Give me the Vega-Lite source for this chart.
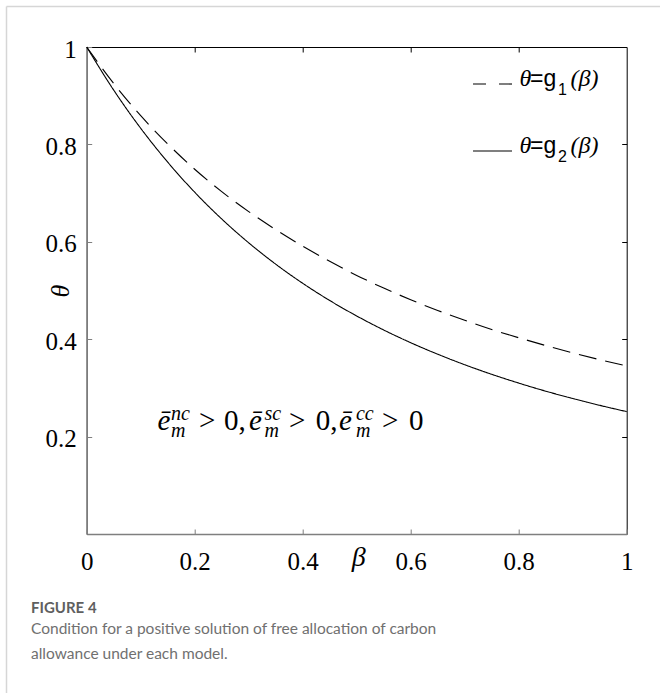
{
  "$schema": "https://vega.github.io/schema/vega-lite/v6.json",
  "width": 540,
  "height": 487,
  "autosize": {"type": "none"},
  "padding": {"left": 86.7, "top": 47, "right": 33.3, "bottom": 159},
  "background": "white",
  "config": {"view": {"stroke": "black", "strokeWidth": 1}},
  "title": {
    "text": "FIGURE 4",
    "subtitle": ["Condition for a positive solution of free allocation of carbon", "allowance under each model."],
    "orient": "bottom",
    "anchor": "start",
    "frame": "group",
    "dx": -55.7,
    "offset": -93,
    "font": "Lato",
    "fontSize": 15,
    "fontWeight": "bold",
    "color": "#5f5f5f",
    "subtitleFont": "Lato",
    "subtitleFontSize": 15.5,
    "subtitleColor": "#707070",
    "subtitleLineHeight": 25,
    "subtitlePadding": 6
  },
  "datasets": {
    "curves": [
      {"b": 0, "v": 1, "s": "g1"}, {"b": 0.05, "v": 0.925, "s": "g1"}, {"b": 0.1, "v": 0.859, "s": "g1"},
      {"b": 0.15, "v": 0.801, "s": "g1"}, {"b": 0.2, "v": 0.749, "s": "g1"}, {"b": 0.25, "v": 0.703, "s": "g1"},
      {"b": 0.3, "v": 0.662, "s": "g1"}, {"b": 0.35, "v": 0.625, "s": "g1"}, {"b": 0.4, "v": 0.591, "s": "g1"},
      {"b": 0.45, "v": 0.56, "s": "g1"}, {"b": 0.5, "v": 0.531, "s": "g1"}, {"b": 0.55, "v": 0.505, "s": "g1"},
      {"b": 0.6, "v": 0.481, "s": "g1"}, {"b": 0.65, "v": 0.459, "s": "g1"}, {"b": 0.7, "v": 0.439, "s": "g1"},
      {"b": 0.75, "v": 0.42, "s": "g1"}, {"b": 0.8, "v": 0.403, "s": "g1"}, {"b": 0.85, "v": 0.387, "s": "g1"},
      {"b": 0.9, "v": 0.372, "s": "g1"}, {"b": 0.95, "v": 0.358, "s": "g1"}, {"b": 1, "v": 0.345, "s": "g1"},
      {"b": 0, "v": 1, "s": "g2"}, {"b": 0.05, "v": 0.9115, "s": "g2"}, {"b": 0.1, "v": 0.8331, "s": "g2"},
      {"b": 0.15, "v": 0.7636, "s": "g2"}, {"b": 0.2, "v": 0.7018, "s": "g2"}, {"b": 0.25, "v": 0.6469, "s": "g2"},
      {"b": 0.3, "v": 0.5979, "s": "g2"}, {"b": 0.35, "v": 0.5541, "s": "g2"}, {"b": 0.4, "v": 0.5148, "s": "g2"},
      {"b": 0.45, "v": 0.4795, "s": "g2"}, {"b": 0.5, "v": 0.4477, "s": "g2"}, {"b": 0.55, "v": 0.4189, "s": "g2"},
      {"b": 0.6, "v": 0.3928, "s": "g2"}, {"b": 0.65, "v": 0.3692, "s": "g2"}, {"b": 0.7, "v": 0.3476, "s": "g2"},
      {"b": 0.75, "v": 0.3279, "s": "g2"}, {"b": 0.8, "v": 0.3099, "s": "g2"}, {"b": 0.85, "v": 0.2933, "s": "g2"},
      {"b": 0.9, "v": 0.2782, "s": "g2"}, {"b": 0.95, "v": 0.2642, "s": "g2"}, {"b": 1, "v": 0.2513, "s": "g2"}
    ],
    "labels": [
      {"x": 0.1311, "y": 0.2136, "t": "ē", "k": "ev"},
      {"x": 0.3006, "y": 0.2136, "t": "ē", "k": "ev"},
      {"x": 0.4672, "y": 0.2136, "t": "ē", "k": "ev"},
      {"x": 0.208, "y": 0.2136, "t": ">", "k": "rel"},
      {"x": 0.3746, "y": 0.2136, "t": ">", "k": "rel"},
      {"x": 0.5469, "y": 0.2136, "t": ">", "k": "rel"},
      {"x": 0.2543, "y": 0.2136, "t": "0,", "k": "rel"},
      {"x": 0.4241, "y": 0.2136, "t": "0,", "k": "rel"},
      {"x": 0.5969, "y": 0.2136, "t": "0", "k": "rel"},
      {"x": 0.1561, "y": 0.2341, "t": "nc", "k": "sc"},
      {"x": 0.3293, "y": 0.2341, "t": "sc", "k": "sc"},
      {"x": 0.4987, "y": 0.2341, "t": "cc", "k": "sc"},
      {"x": 0.1561, "y": 0.1986, "t": "m", "k": "sc"},
      {"x": 0.3293, "y": 0.1986, "t": "m", "k": "sc"},
      {"x": 0.4987, "y": 0.1986, "t": "m", "k": "sc"},
      {"x": 0.8015, "y": 0.9189, "t": "θ", "k": "lser"},
      {"x": 0.8959, "y": 0.9189, "t": "(β)", "k": "lser"},
      {"x": 0.8209, "y": 0.9189, "t": "=g", "k": "lsans"},
      {"x": 0.8728, "y": 0.9014, "t": "1", "k": "lsub"},
      {"x": 0.8015, "y": 0.7819, "t": "θ", "k": "lser"},
      {"x": 0.8959, "y": 0.7819, "t": "(β)", "k": "lser"},
      {"x": 0.8209, "y": 0.7819, "t": "=g", "k": "lsans"},
      {"x": 0.8728, "y": 0.7645, "t": "2", "k": "lsub"}
    ],
    "border": [
      {"x": -0.1485, "x2": -0.1485, "y": 1.083, "y2": -0.3265},
      {"x": -0.1485, "x2": 1.0617, "y": 1.083, "y2": 1.083}
    ],
    "legend": [
      {"x": 0.7154, "x2": 0.7876, "y": 0.924, "s": "g1"},
      {"x": 0.7154, "x2": 0.7876, "y": 0.7864, "s": "g2"}
    ]
  },
  "layer": [
    {
      "data": {"name": "border"},
      "mark": {"type": "rule", "color": "#d6d6d6", "strokeWidth": 1.5},
      "encoding": {
        "x": {"field": "x", "type": "quantitative", "scale": {"domain": [0, 1], "nice": false, "zero": false}, "axis": null},
        "x2": {"field": "x2"},
        "y": {"field": "y", "type": "quantitative", "scale": {"domain": [0, 1], "nice": false, "zero": false}, "axis": null},
        "y2": {"field": "y2"}
      }
    },
    {
      "data": {"name": "curves"},
      "mark": {"type": "line", "color": "black", "strokeWidth": 1.1, "interpolate": "monotone"},
      "encoding": {
        "x": {
          "field": "b", "type": "quantitative",
          "axis": {
            "orient": "bottom", "values": [0, 0.2, 0.4, 0.6, 0.8, 1], "format": "~g",
            "title": "β", "titleFont": "Liberation Serif", "titleFontStyle": "italic", "titleFontWeight": "normal",
            "titleFontSize": 28, "titleColor": "black", "titleX": 271.6, "titleY": 31, "titleBaseline": "alphabetic", "titleAlign": "center",
            "labelFont": "Liberation Serif", "labelFontSize": 25, "labelColor": "black", "labelBaseline": "alphabetic",
            "labelPadding": 40, "labelFlush": false, "labelOverlap": false,
            "tickSize": -5, "tickColor": "#7f7f7f", "domainColor": "#7f7f7f", "domainWidth": 1.5, "grid": false
          }
        },
        "y": {
          "field": "v", "type": "quantitative",
          "axis": {
            "orient": "left", "values": [0.2, 0.4, 0.6, 0.8, 1], "format": "~g",
            "title": "θ", "titleFont": "Liberation Serif", "titleFontStyle": "italic", "titleFontWeight": "normal",
            "titleFontSize": 26, "titleColor": "black", "titleX": -18.4, "titleY": 243.5, "titleBaseline": "alphabetic", "titleAngle": -90, "titleAlign": "center",
            "labelFont": "Liberation Serif", "labelFontSize": 25, "labelColor": "black", "labelBaseline": "middle",
            "labelPadding": 15.5, "labelOffset": 2, "labelFlush": false, "labelOverlap": false,
            "tickSize": -5, "tickColor": "#7f7f7f", "domainColor": "#7f7f7f", "domainWidth": 1.5, "grid": false
          }
        },
        "strokeDash": {"field": "s", "type": "nominal", "scale": {"domain": ["g1", "g2"], "range": [[18, 9], [1, 0]]}, "legend": null}
      }
    },
    {
      "data": {"name": "legend"},
      "transform": [{"filter": "datum.s === 'g1'"}],
      "mark": {"type": "rule", "color": "black", "strokeWidth": 1.1, "strokeDash": [13, 13]},
      "encoding": {
        "x": {"field": "x", "type": "quantitative", "axis": {"orient": "top", "values": [0.2, 0.4, 0.6, 0.8], "labels": false, "domain": false, "tickSize": -5, "tickColor": "black", "title": null, "grid": false}},
        "x2": {"field": "x2"},
        "y": {"field": "y", "type": "quantitative", "axis": {"orient": "right", "values": [0.2, 0.4, 0.6, 0.8], "labels": false, "domain": false, "tickSize": -5, "tickColor": "black", "title": null, "grid": false}}
      }
    },
    {
      "data": {"name": "legend"},
      "transform": [{"filter": "datum.s === 'g2'"}],
      "mark": {"type": "rule", "color": "black", "strokeWidth": 1.1},
      "encoding": {
        "x": {"field": "x", "type": "quantitative", "axis": null},
        "x2": {"field": "x2"},
        "y": {"field": "y", "type": "quantitative", "axis": null}
      }
    },
    {
      "data": {"name": "labels"},
      "transform": [{"filter": "datum.k === 'ev'"}],
      "mark": {"type": "text", "font": "Liberation Serif", "fontStyle": "italic", "fontSize": 29, "align": "left", "baseline": "alphabetic", "color": "black"},
      "encoding": {
        "x": {"field": "x", "type": "quantitative", "axis": null},
        "y": {"field": "y", "type": "quantitative", "axis": null},
        "text": {"field": "t"}
      }
    },
    {
      "data": {"name": "labels"},
      "transform": [{"filter": "datum.k === 'rel'"}],
      "mark": {"type": "text", "font": "Liberation Serif", "fontSize": 29, "align": "left", "baseline": "alphabetic", "color": "black"},
      "encoding": {
        "x": {"field": "x", "type": "quantitative", "axis": null},
        "y": {"field": "y", "type": "quantitative", "axis": null},
        "text": {"field": "t"}
      }
    },
    {
      "data": {"name": "labels"},
      "transform": [{"filter": "datum.k === 'sc'"}],
      "mark": {"type": "text", "font": "Liberation Serif", "fontStyle": "italic", "fontSize": 20, "align": "left", "baseline": "alphabetic", "color": "black"},
      "encoding": {
        "x": {"field": "x", "type": "quantitative", "axis": null},
        "y": {"field": "y", "type": "quantitative", "axis": null},
        "text": {"field": "t"}
      }
    },
    {
      "data": {"name": "labels"},
      "transform": [{"filter": "datum.k === 'lser'"}],
      "mark": {"type": "text", "font": "Liberation Serif", "fontStyle": "italic", "fontSize": 24, "align": "left", "baseline": "alphabetic", "color": "black"},
      "encoding": {
        "x": {"field": "x", "type": "quantitative", "axis": null},
        "y": {"field": "y", "type": "quantitative", "axis": null},
        "text": {"field": "t"}
      }
    },
    {
      "data": {"name": "labels"},
      "transform": [{"filter": "datum.k === 'lsans'"}],
      "mark": {"type": "text", "font": "Liberation Sans", "fontSize": 23, "align": "left", "baseline": "alphabetic", "color": "black"},
      "encoding": {
        "x": {"field": "x", "type": "quantitative", "axis": null},
        "y": {"field": "y", "type": "quantitative", "axis": null},
        "text": {"field": "t"}
      }
    },
    {
      "data": {"name": "labels"},
      "transform": [{"filter": "datum.k === 'lsub'"}],
      "mark": {"type": "text", "font": "Liberation Sans", "fontSize": 16, "align": "left", "baseline": "alphabetic", "color": "black"},
      "encoding": {
        "x": {"field": "x", "type": "quantitative", "axis": null},
        "y": {"field": "y", "type": "quantitative", "axis": null},
        "text": {"field": "t"}
      }
    }
  ],
  "resolve": {"axis": {"x": "independent", "y": "independent"}}
}
